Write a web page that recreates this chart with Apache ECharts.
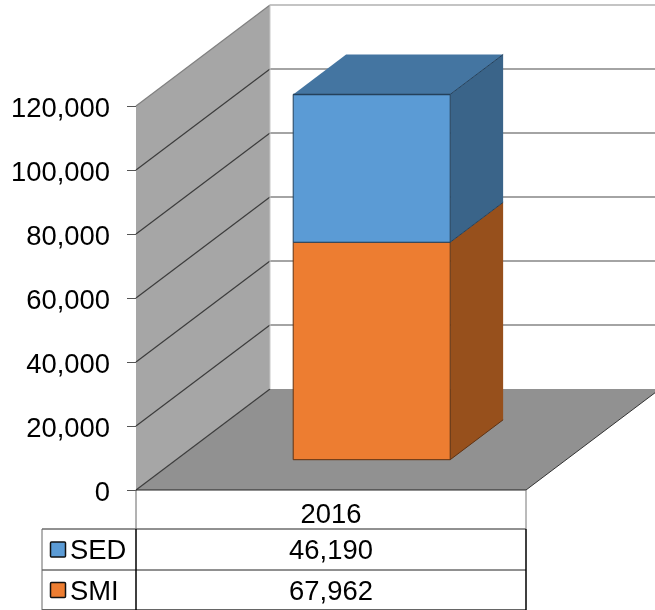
<!DOCTYPE html>
<html>
<head>
<meta charset="utf-8">
<style>html,body{margin:0;padding:0;background:#fff}#main{width:655px;height:610px}</style>
<script src="https://cdn.jsdelivr.net/npm/echarts@6/dist/echarts.min.js"></script>
</head>
<body>
<div id="main"></div>
<script>
const years = ['2016'];
const smi = [67962];
const sed = [46190];
const seriesNames = ['SED', 'SMI'];
const tableValues = ['46,190', '67,962'];
const seriesColors = ['#5B9BD5', '#ED7D31'];

const FONT = '"Liberation Sans", Arial, sans-serif';
const FONT_SIZE = 27.4;
// 3d depth of the box, px
const DX = 134, DY = -101;
// bar sits between these fractions of the depth
const BAR_Z0 = 0.3, BAR_Z1 = 0.695;
const BAR_W = 157;

function poly(points, fill, stroke, lw) {
  return { type: 'polygon', shape: { points }, style: { fill, stroke: stroke || null, lineWidth: lw || 0 } };
}
function seg(a, b, stroke, lw) {
  return { type: 'line', shape: { x1: a[0], y1: a[1], x2: b[0], y2: b[1] }, style: { stroke, lineWidth: lw || 1 } };
}
function back(p, z) {
  return [p[0] + DX * z, p[1] + DY * z];
}

function renderWalls(params, api) {
  const cs = params.coordSys;
  const x0 = cs.x, x1 = cs.x + cs.width;
  const y0 = api.coord([0, 0])[1];
  const top = api.coord([0, 120000])[1];
  const kids = [];
  // back wall stays white, only its edge and grid lines show
  kids.push(poly([[x0, top], back([x0, top], 1), back([x0, y0], 1), [x0, y0]], '#A6A6A6'));
  kids.push(poly([[x0, y0], [x1, y0], back([x1, y0], 1), back([x0, y0], 1)], '#919191'));
  for (let v = 0; v <= 120000; v += 20000) {
    const y = api.coord([0, v])[1];
    const a = [x0, y], b = back(a, 1);
    kids.push(seg(a, b, v === 120000 ? '#808080' : '#3c3c3c', 1.2));
    if (v > 0) kids.push(seg(b, [655, b[1]], v === 120000 ? '#8a8a8a' : '#4a4a4a', 1.2));
  }
  kids.push(seg(back([x0, y0], 1), back([x0, top], 1), '#c8c8c8', 1));
  kids.push(seg([x1, y0], back([x1, y0], 1), '#333', 1));
  kids.push(seg([x0, y0], [x1, y0], '#222', 1));
  return { type: 'group', children: kids };
}

function renderBox(params, api) {
  const i = api.value(0);
  const lo = api.coord([i, api.value(1)]);
  const hi = api.coord([i, api.value(2)]);
  const color = api.value(3) === 0 ? seriesColors[1] : seriesColors[0];
  const isTop = api.value(3) === 1;
  const l = lo[0] - BAR_W / 2 + 0.5, r = lo[0] + BAR_W / 2 + 0.5;
  const fb = back([l, lo[1]], BAR_Z0), fbr = back([r, lo[1]], BAR_Z0);
  const ft = back([l, hi[1]], BAR_Z0), ftr = back([r, hi[1]], BAR_Z0);
  const d = BAR_Z1 - BAR_Z0;
  const bbr = back(fbr, d), btr = back(ftr, d), btl = back(ft, d);
  const kids = [
    poly([fb, fbr, ftr, ft], color),
    poly([fbr, bbr, btr, ftr], isTop ? '#3A6489' : '#97501C')
  ];
  const edge = isTop ? '#24405a' : '#5f3212';
  kids.push(seg(fb, ft, edge, 1), seg(fbr, ftr, edge, 1), seg(fb, fbr, edge, 1), seg(ft, ftr, edge, 1));
  kids.push(seg(fbr, bbr, edge, 1));
  if (isTop) {
    kids.push(poly([ft, ftr, btr, btl], '#4475A1'));
    kids.push(seg(ft, ftr, edge, 1.5), seg(ftr, btr, edge, 1));
  }
  return { type: 'group', children: kids };
}

// data table under the plot
function tableGraphic() {
  const left = 42, mid = 136, right = 526, rows = [529, 570, 610];
  const els = [];
  const ln = (x1, y1, x2, y2, w, c) => els.push({ type: 'line', shape: { x1, y1, x2, y2 }, style: { stroke: c || '#000', lineWidth: w || 1 }, z: 10 });
  ln(left, rows[0], right, rows[0], 1, '#222');
  ln(left, rows[1], right, rows[1], 1, '#222');
  ln(left, rows[2] - 0.5, right, rows[2] - 0.5, 1, '#666');
  ln(left, rows[0], left, rows[2], 1, '#666');
  ln(mid, 490, mid, rows[0], 1, '#666');
  ln(mid, rows[0], mid, rows[2], 1.5, '#000');
  ln(right, 490, right, rows[0], 1, '#777');
  ln(right, rows[0], right, rows[2], 1.5, '#000');
  seriesNames.forEach((name, i) => {
    const cy = (rows[i] + rows[i + 1]) / 2 + 2;
    els.push({ type: 'rect', shape: { x: 50.5, y: cy - 9.5, width: 15, height: 15, r: 1 }, style: { fill: seriesColors[i], stroke: '#111', lineWidth: 1.5 }, z: 10 });
    els.push({ type: 'text', style: { x: 70, y: cy, text: name, font: FONT_SIZE + 'px ' + FONT, fill: '#000', verticalAlign: 'middle' }, z: 10 });
    els.push({ type: 'text', style: { x: 331, y: cy, text: tableValues[i], font: FONT_SIZE + 'px ' + FONT, fill: '#000', align: 'center', verticalAlign: 'middle' }, z: 10 });
  });
  return els;
}

const chart = echarts.init(document.getElementById('main'), null, { renderer: 'canvas' });
chart.setOption({
  animation: false,
  backgroundColor: '#fff',
  grid: { left: 136, right: 129, top: 106, bottom: 120, containLabel: false },
  xAxis: {
    type: 'category',
    data: years,
    axisLine: { show: false },
    axisTick: { show: false },
    axisLabel: { color: '#000', fontFamily: FONT, fontSize: FONT_SIZE, margin: 12 }
  },
  yAxis: {
    type: 'value',
    min: 0,
    max: 120000,
    interval: 20000,
    splitLine: { show: false },
    axisLine: { show: true, lineStyle: { color: '#222', width: 1 } },
    axisTick: { show: true, length: 9, lineStyle: { color: '#555' } },
    axisLabel: {
      color: '#000',
      fontFamily: FONT,
      fontSize: FONT_SIZE,
      margin: 26,
      verticalAlign: 'top',
      lineHeight: 6,
      formatter: v => v.toLocaleString('en-US')
    }
  },
  graphic: tableGraphic(),
  series: [
    {
      type: 'custom',
      name: 'walls',
      clip: false,
      silent: true,
      z: 1,
      data: [[0]],
      renderItem: renderWalls
    },
    {
      type: 'custom',
      name: 'stack',
      clip: false,
      z: 2,
      encode: { x: 0, y: [1, 2] },
      data: years.flatMap((y, i) => [
        [i, 0, smi[i], 0],
        [i, smi[i], smi[i] + sed[i], 1]
      ]),
      renderItem: renderBox
    }
  ]
});
</script>
</body>
</html>
